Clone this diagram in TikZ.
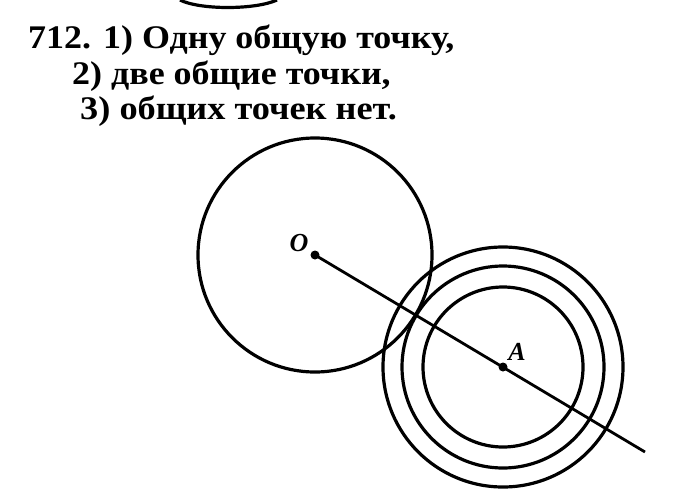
\documentclass[tikz,border=0pt]{standalone}
\usepackage{fontspec}
\setmainfont{Liberation Serif}
\begin{document}
\begin{tikzpicture}[x=1pt,y=-1pt,
  stroke/.style={line width=3.2pt,black},
  txt/.style={anchor=base west,inner sep=0pt,font=\fontsize{33}{36}\selectfont\bfseries},
  lbl/.style={inner sep=0pt,font=\fontsize{26}{28}\selectfont\bfseries\itshape},
  dotc/.style={circle,fill=black,inner sep=0pt,minimum size=9pt}]
\useasboundingbox (0,0) rectangle (690,490);
% text
\node[txt] (t1) at (28,48) {\scalebox{1.09}[1]{712. 1) Одну общую точку,}};
\node[txt] (t2) at (72,84) {\scalebox{1.09}[1]{2) две общие точки,}};
\node[txt] (t3) at (80,119) {\scalebox{1.1}[1]{3) общих точек нет.}};
% piece of previous figure
\draw[stroke] (180,0) .. controls (200,10) and (255,10) .. (277,0);
% centres
\node[dotc] (O) at (315,255) {};
\node[dotc] (A) at (503,367) {};
\coordinate (E) at (645,452);
\node[lbl] (Ol) at (299,243) {O};
\node[lbl] (Al) at (517,352) {A};
% circles
\draw[stroke] (O.center) circle[radius=117pt];
\draw[stroke] (A.center) circle[radius=80pt];
\draw[stroke] (A.center) circle[radius=101pt];
\draw[stroke] (A.center) circle[radius=120pt];
% line
\draw[line width=2.8pt] (O.center) -- (E);
\end{tikzpicture}
\end{document}
